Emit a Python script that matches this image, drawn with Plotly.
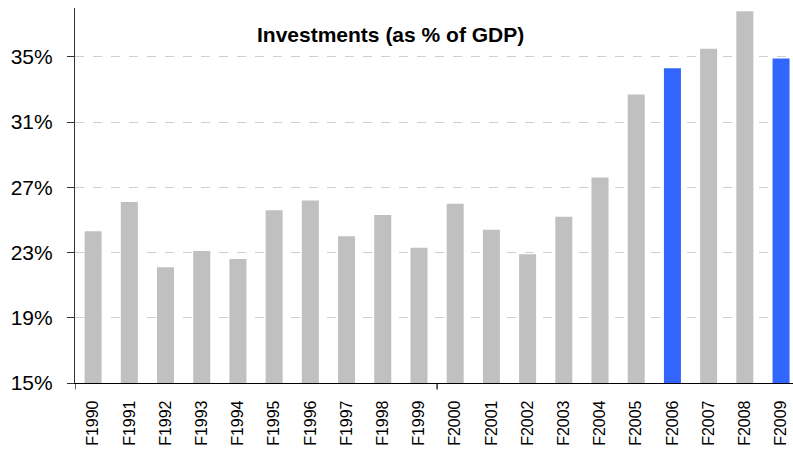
import plotly.graph_objects as go

# Fiscal years and investment share of GDP (%)
years = ["F1990", "F1991", "F1992", "F1993", "F1994", "F1995", "F1996", "F1997",
         "F1998", "F1999", "F2000", "F2001", "F2002", "F2003", "F2004", "F2005",
         "F2006", "F2007", "F2008", "F2009"]
investment_pct = [24.3, 26.1, 22.1, 23.1, 22.6, 25.6, 26.2, 24.0,
                  25.3, 23.3, 26.0, 24.4, 22.9, 25.2, 27.6, 32.7,
                  34.3, 35.5, 37.8, 34.9]
highlight_years = ["F2006", "F2009"]

y_ticks = [15, 19, 23, 27, 31, 35]
y_tick_labels = [f"{v}%" for v in y_ticks]

GRAY = "#C0C0C0"
BLUE = "#3366FF"
colors = [BLUE if y in highlight_years else GRAY for y in years]

fig = go.Figure(
    go.Bar(
        x=years,
        y=investment_pct,
        marker=dict(color=colors, line=dict(width=0)),
        width=0.47,
        base=0,
    )
)

font_family = "Liberation Sans, Arial, sans-serif"

fig.update_layout(
    width=793,
    height=461,
    margin=dict(l=75, r=0, t=8, b=78),
    paper_bgcolor="white",
    plot_bgcolor="white",
    showlegend=False,
    font=dict(family=font_family, color="black"),
    xaxis=dict(
        type="category",
        range=[-0.5, 19.33],
        showline=True,
        linecolor="black",
        linewidth=1.2,
        ticks="",
        tickangle=-90,
        tickfont=dict(size=16, family=font_family, color="black"),
        ticklabelstandoff=10,
        showgrid=False,
        zeroline=False,
    ),
    yaxis=dict(
        range=[15, 38],
        tickvals=y_ticks,
        ticktext=y_tick_labels,
        showline=True,
        linecolor="#333333",
        linewidth=1.2,
        ticks="outside",
        ticklen=7,
        tickcolor="#333333",
        tickfont=dict(size=21, family=font_family, color="black"),
        ticklabelstandoff=10,
        showgrid=True,
        gridcolor="#CFCFCF",
        griddash="dash",
        gridwidth=1,
        zeroline=False,
    ),
)

# Category separator ticks below the x axis (every ten years)
for pos in [-0.5, 9.5]:
    fig.add_shape(
        type="line",
        xref="x", yref="paper",
        x0=pos, x1=pos, y0=0, y1=-0.017,
        line=dict(color="black", width=1.2),
    )

fig.add_annotation(
    text="<b>Investments (as % of GDP)</b>",
    xref="paper", yref="paper",
    x=(390 - 75) / 718, y=(383 - 34) / 375,
    xanchor="center", yanchor="middle",
    showarrow=False,
    font=dict(size=21, family=font_family, color="black"),
)

fig.write_html("out.html")
